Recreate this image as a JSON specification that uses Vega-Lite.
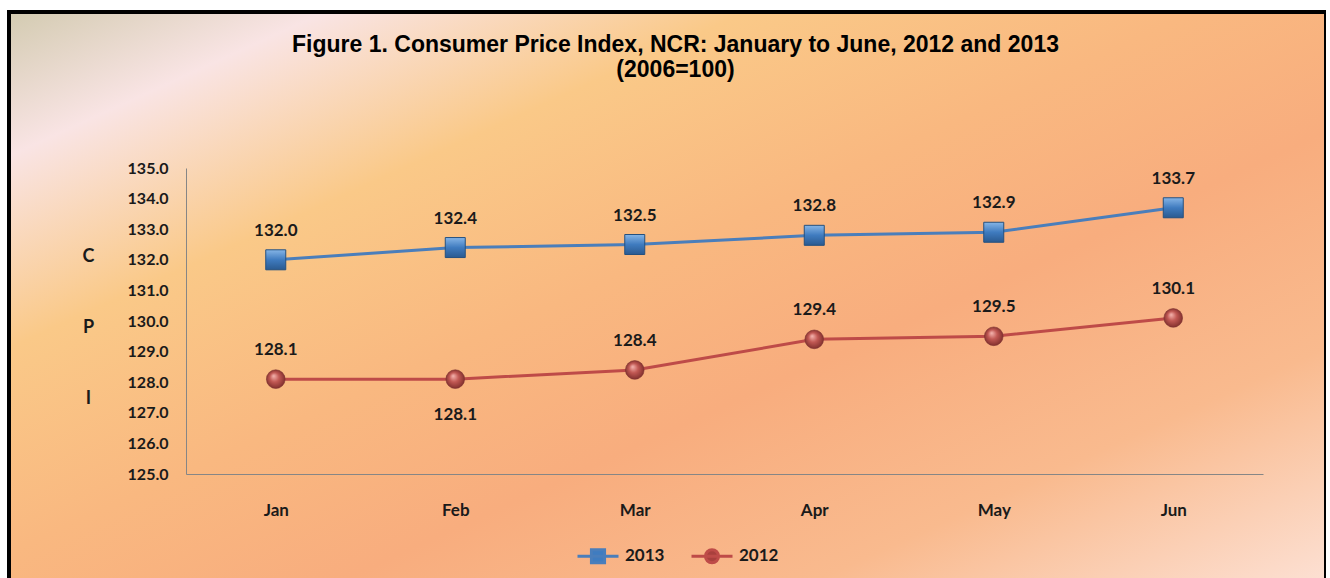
{
  "$schema": "https://vega.github.io/schema/vega-lite/v6.json",
  "autosize": "none",
  "padding": {"left": 9, "top": 12, "right": 0, "bottom": 0},
  "width": 1317,
  "height": 600,
  "background": "#ffffff",
  "view": {
    "fill": {
      "gradient": "linear", "x1": 0, "y1": 0, "x2": 1, "y2": 1,
      "stops": [
        {"offset": 0, "color": "#d3cbb1"},
        {"offset": 0.12, "color": "#f9e4e4"},
        {"offset": 0.28, "color": "#fac988"},
        {"offset": 0.45, "color": "#f9b880"},
        {"offset": 0.6, "color": "#f8ad7e"},
        {"offset": 0.78, "color": "#f9ba8e"},
        {"offset": 1, "color": "#fde5dc"}
      ]
    },
    "stroke": "#000000",
    "strokeWidth": 4
  },
  "title": {
    "text": ["Figure 1. Consumer Price Index, NCR: January to June, 2012 and 2013", "(2006=100)"],
    "font": "Liberation Sans",
    "fontSize": 23,
    "fontWeight": "bold",
    "color": "#000000",
    "anchor": "middle",
    "frame": "group",
    "offset": -70,
    "dx": 8,
    "lineHeight": 25
  },
  "data": {
    "values": [
      {"month": "Jan", "series": "2013", "cpi": 132.0},
      {"month": "Feb", "series": "2013", "cpi": 132.4},
      {"month": "Mar", "series": "2013", "cpi": 132.5},
      {"month": "Apr", "series": "2013", "cpi": 132.8},
      {"month": "May", "series": "2013", "cpi": 132.9},
      {"month": "Jun", "series": "2013", "cpi": 133.7},
      {"month": "Jan", "series": "2012", "cpi": 128.1},
      {"month": "Feb", "series": "2012", "cpi": 128.1},
      {"month": "Mar", "series": "2012", "cpi": 128.4},
      {"month": "Apr", "series": "2012", "cpi": 129.4},
      {"month": "May", "series": "2012", "cpi": 129.5},
      {"month": "Jun", "series": "2012", "cpi": 130.1}
    ]
  },
  "encoding": {
    "x": {
      "field": "month", "type": "ordinal",
      "sort": ["Jan", "Feb", "Mar", "Apr", "May", "Jun"],
      "scale": {"type": "point", "range": [177, 1254], "padding": 0.5},
      "axis": {
        "orient": "bottom", "offset": -138, "title": null, "labelAngle": 0,
        "ticks": false, "tickSize": 0, "grid": false,
        "domainColor": "#868686", "domainWidth": 1,
        "labelFont": "Lato", "labelFontSize": 17, "labelFontWeight": "bold",
        "labelColor": "#1a1a1a", "labelPadding": 28, "labelBaseline": "top"
      }
    },
    "y": {
      "field": "cpi", "type": "quantitative",
      "scale": {"domain": [125, 135], "range": [462, 156], "nice": false, "zero": false},
      "axis": {
        "orient": "left", "offset": -177,
        "values": [125, 126, 127, 128, 129, 130, 131, 132, 133, 134, 135],
        "format": ".1f", "grid": false, "ticks": false, "tickSize": 0,
        "domainColor": "#868686", "domainWidth": 1,
        "labelFont": "Lato", "labelFontSize": 16, "labelFontWeight": "bold",
        "labelColor": "#1a1a1a", "labelPadding": 18,
        "title": ["C", "P", "I"], "titleAngle": 0, "titleX": -98, "titleY": 244,
        "titleAlign": "center", "titleBaseline": "middle", "titleLineHeight": 71,
        "titleFont": "Lato", "titleFontSize": 18, "titleFontWeight": "bold", "titleColor": "#1a1a1a"
      }
    }
  },
  "layer": [
    {
      "mark": {"type": "line", "strokeWidth": 3},
      "encoding": {
        "color": {
          "field": "series", "type": "nominal",
          "scale": {"domain": ["2013", "2012"], "range": ["#4a7ebb", "#be4b48"]},
          "legend": {
            "orient": "none", "legendX": 567, "legendY": 522, "direction": "horizontal",
            "title": null, "padding": 0, "symbolSize": 1681, "symbolStrokeWidth": 3,
            "labelFont": "Lato", "labelFontSize": 17, "labelFontWeight": "bold",
            "labelColor": "#1a1a1a", "labelOffset": 5, "columnPadding": 20,
            "encode": {
              "symbols": {
                "update": {
                  "shape": {"signal": "datum.value === '2013' ? 'M-1,0L1,0M-0.32,-0.32L0.32,-0.32L0.32,0.32L-0.32,0.32Z' : 'M-1,0L1,0M0.32,0A0.32,0.32 0 1,1 -0.32,0A0.32,0.32 0 1,1 0.32,0Z'"},
                  "fill": {"signal": "datum.value === '2013' ? '#3f7cc0' : '#a9403d'"}
                }
              }
            }
          }
        }
      }
    },
    {
      "transform": [{"filter": "datum.series === '2013'"}],
      "mark": {
        "type": "point", "shape": "square", "size": 400, "filled": true, "opacity": 1,
        "fill": {
          "gradient": "linear", "x1": 0, "y1": 0, "x2": 0, "y2": 1,
          "stops": [
            {"offset": 0, "color": "#86b5e6"},
            {"offset": 0.5, "color": "#3f7bbf"},
            {"offset": 1, "color": "#2a5a90"}
          ]
        },
        "stroke": "#24507f", "strokeWidth": 1
      }
    },
    {
      "transform": [{"filter": "datum.series === '2012'"}],
      "mark": {
        "type": "point", "shape": "circle", "size": 350, "filled": true, "opacity": 1,
        "fill": {
          "gradient": "radial", "x1": 0.38, "y1": 0.32, "r1": 0, "x2": 0.5, "y2": 0.5, "r2": 0.55,
          "stops": [
            {"offset": 0, "color": "#f6b8b2"},
            {"offset": 0.45, "color": "#c25954"},
            {"offset": 1, "color": "#7a2b29"}
          ]
        },
        "stroke": "#7e3230", "strokeWidth": 0.6
      }
    },
    {
      "transform": [{"filter": "!(datum.series === '2012' && datum.month === 'Feb')"}],
      "mark": {"type": "text", "dy": -24, "baseline": "alphabetic", "font": "Lato", "fontSize": 17, "fontWeight": "bold", "color": "#1a1a1a"},
      "encoding": {"text": {"field": "cpi", "type": "quantitative", "format": ".1f"}}
    },
    {
      "transform": [{"filter": "datum.series === '2012' && datum.month === 'Feb'"}],
      "mark": {"type": "text", "dy": 41, "baseline": "alphabetic", "font": "Lato", "fontSize": 17, "fontWeight": "bold", "color": "#1a1a1a"},
      "encoding": {"text": {"field": "cpi", "type": "quantitative", "format": ".1f"}}
    }
  ]
}
